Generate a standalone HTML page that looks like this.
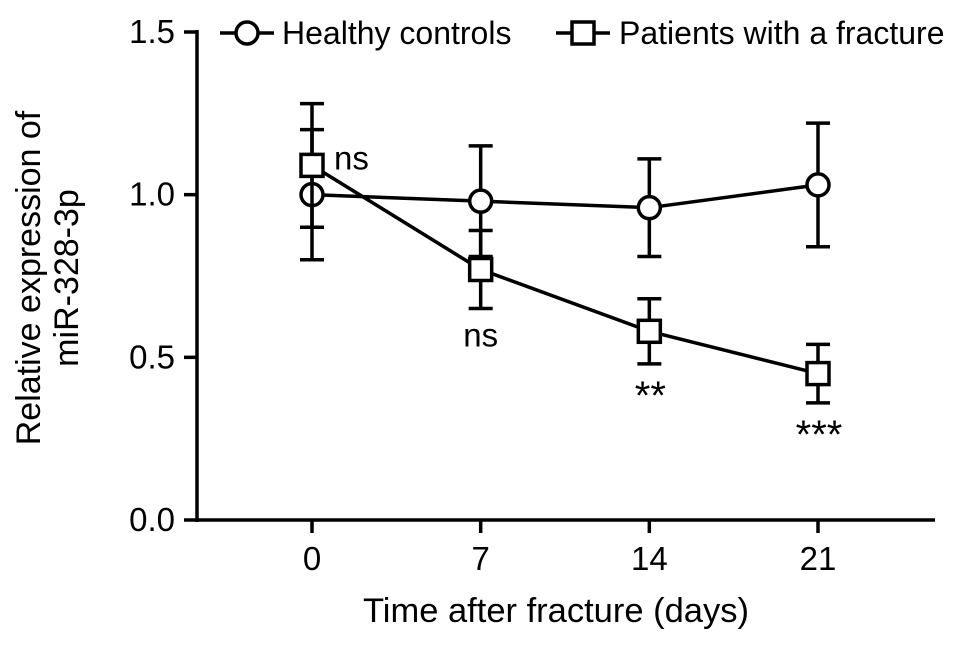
<!DOCTYPE html>
<html><head><meta charset="utf-8"><style>
body{margin:0;background:#fff}
svg text{font-family:"Liberation Sans",Arial,sans-serif;fill:#000}
</style></head><body>
<svg id="chart" width="969" height="645" xmlns="http://www.w3.org/2000/svg"></svg>
<script>
const days=[0,7,14,21];
const healthyMean=[1.00,0.98,0.96,1.03];
const healthyErr=[0.20,0.17,0.15,0.19];
const patientMean=[1.09,0.77,0.58,0.45];
const patientErr=[0.19,0.12,0.10,0.09];
const sigLabels=["ns","ns","**","***"];
const yTicks=[0.0,0.5,1.0,1.5];
const xTickLabels=["0","7","14","21"];

const NS="http://www.w3.org/2000/svg";
const svg=document.getElementById('chart');
const y0=520,yTop=32,SW=3.5;
function ys(v){return y0-(v/1.5)*(y0-yTop);}
function xs(d){return 312+d*(818-312)/21;}
function el(t,a,p){const e=document.createElementNS(NS,t);for(const k in a)e.setAttribute(k,a[k]);(p||svg).appendChild(e);return e;}

const axes=el('g',{});


el('line',{x1:197,y1:yTop-2,x2:197,y2:y0+2,stroke:'#000','stroke-width':SW},axes);
el('line',{x1:195,y1:y0,x2:935,y2:y0,stroke:'#000','stroke-width':SW},axes);
yTicks.forEach(v=>{
  el('line',{x1:184,y1:ys(v),x2:197,y2:ys(v),stroke:'#000','stroke-width':SW},axes);
  const t=el('text',{x:175,y:ys(v)+11,'text-anchor':'end',style:'font-size:33px'},axes);
  t.textContent=v.toFixed(1);
  
  
});
days.forEach((d,i)=>{
  el('line',{x1:xs(d),y1:y0,x2:xs(d),y2:y0+13,stroke:'#000','stroke-width':SW},axes);
  const t=el('text',{x:xs(d),y:y0+50,'text-anchor':'middle',style:'font-size:33px'},axes);
  t.textContent=xTickLabels[i];
  
  
});
const xt=el('text',{x:556,y:622,'text-anchor':'middle',style:'font-size:34.5px'});
xt.textContent='Time after fracture (days)';


const yt=el('text',{transform:'translate(40,278) rotate(-90)','text-anchor':'middle',style:'font-size:34px'});


const s1=el('tspan',{x:0,dy:0},yt);s1.textContent='Relative expression of';
const s2=el('tspan',{x:0,dy:38},yt);s2.textContent='miR-328-3p';

function series(mean,err,shape,name){
  const g=el('g',{});
  
  
  el('polyline',{points:days.map((d,i)=>xs(d)+','+ys(mean[i])).join(' '),fill:'none',stroke:'#000','stroke-width':SW},g);
  days.forEach((d,i)=>{
    const x=xs(d),t=ys(mean[i]+err[i]),b=ys(mean[i]-err[i]);
    el('line',{x1:x,y1:t,x2:x,y2:b,stroke:'#000','stroke-width':SW},g);
    el('line',{x1:x-12,y1:t,x2:x+12,y2:t,stroke:'#000','stroke-width':SW},g);
    el('line',{x1:x-12,y1:b,x2:x+12,y2:b,stroke:'#000','stroke-width':SW},g);
    let m;
    if(shape==='circle')m=el('circle',{cx:x,cy:ys(mean[i]),r:11,fill:'#fff',stroke:'#000','stroke-width':SW},g);
    else m=el('rect',{x:x-11,y:ys(mean[i])-11,width:22,height:22,fill:'#fff',stroke:'#000','stroke-width':SW},g);
    
    
  });
}
series(healthyMean,healthyErr,'circle','healthy-series');
series(patientMean,patientErr,'square','patient-series');

days.forEach((d,i)=>{
  let x,y,fs=33;
  if(i===0){x=xs(d)+22;y=ys(patientMean[i])+4;}
  else if(i===1){x=xs(d);y=ys(patientMean[i]-patientErr[i])+38;}
  else{x=xs(d)+1;y=ys(patientMean[i]-patientErr[i])+45;fs=40;}
  const t=el('text',{x:x,y:y,'text-anchor':i===0?'start':'middle',style:'font-size:'+fs+'px'});
  t.textContent=sigLabels[i];
  
  
});

const lg=el('g',{});


el('line',{x1:220,y1:33,x2:274,y2:33,stroke:'#000','stroke-width':SW},lg);
el('circle',{cx:247,cy:33,r:11,fill:'#fff',stroke:'#000','stroke-width':SW},lg);
const l1=el('text',{x:282,y:44,style:'font-size:32px'},lg);l1.textContent='Healthy controls';


el('line',{x1:556,y1:33,x2:610,y2:33,stroke:'#000','stroke-width':SW},lg);
el('rect',{x:572,y:22,width:22,height:22,fill:'#fff',stroke:'#000','stroke-width':SW},lg);
const l2=el('text',{x:619,y:44,style:'font-size:32px'},lg);l2.textContent='Patients with a fracture';


</script>
</body></html>
